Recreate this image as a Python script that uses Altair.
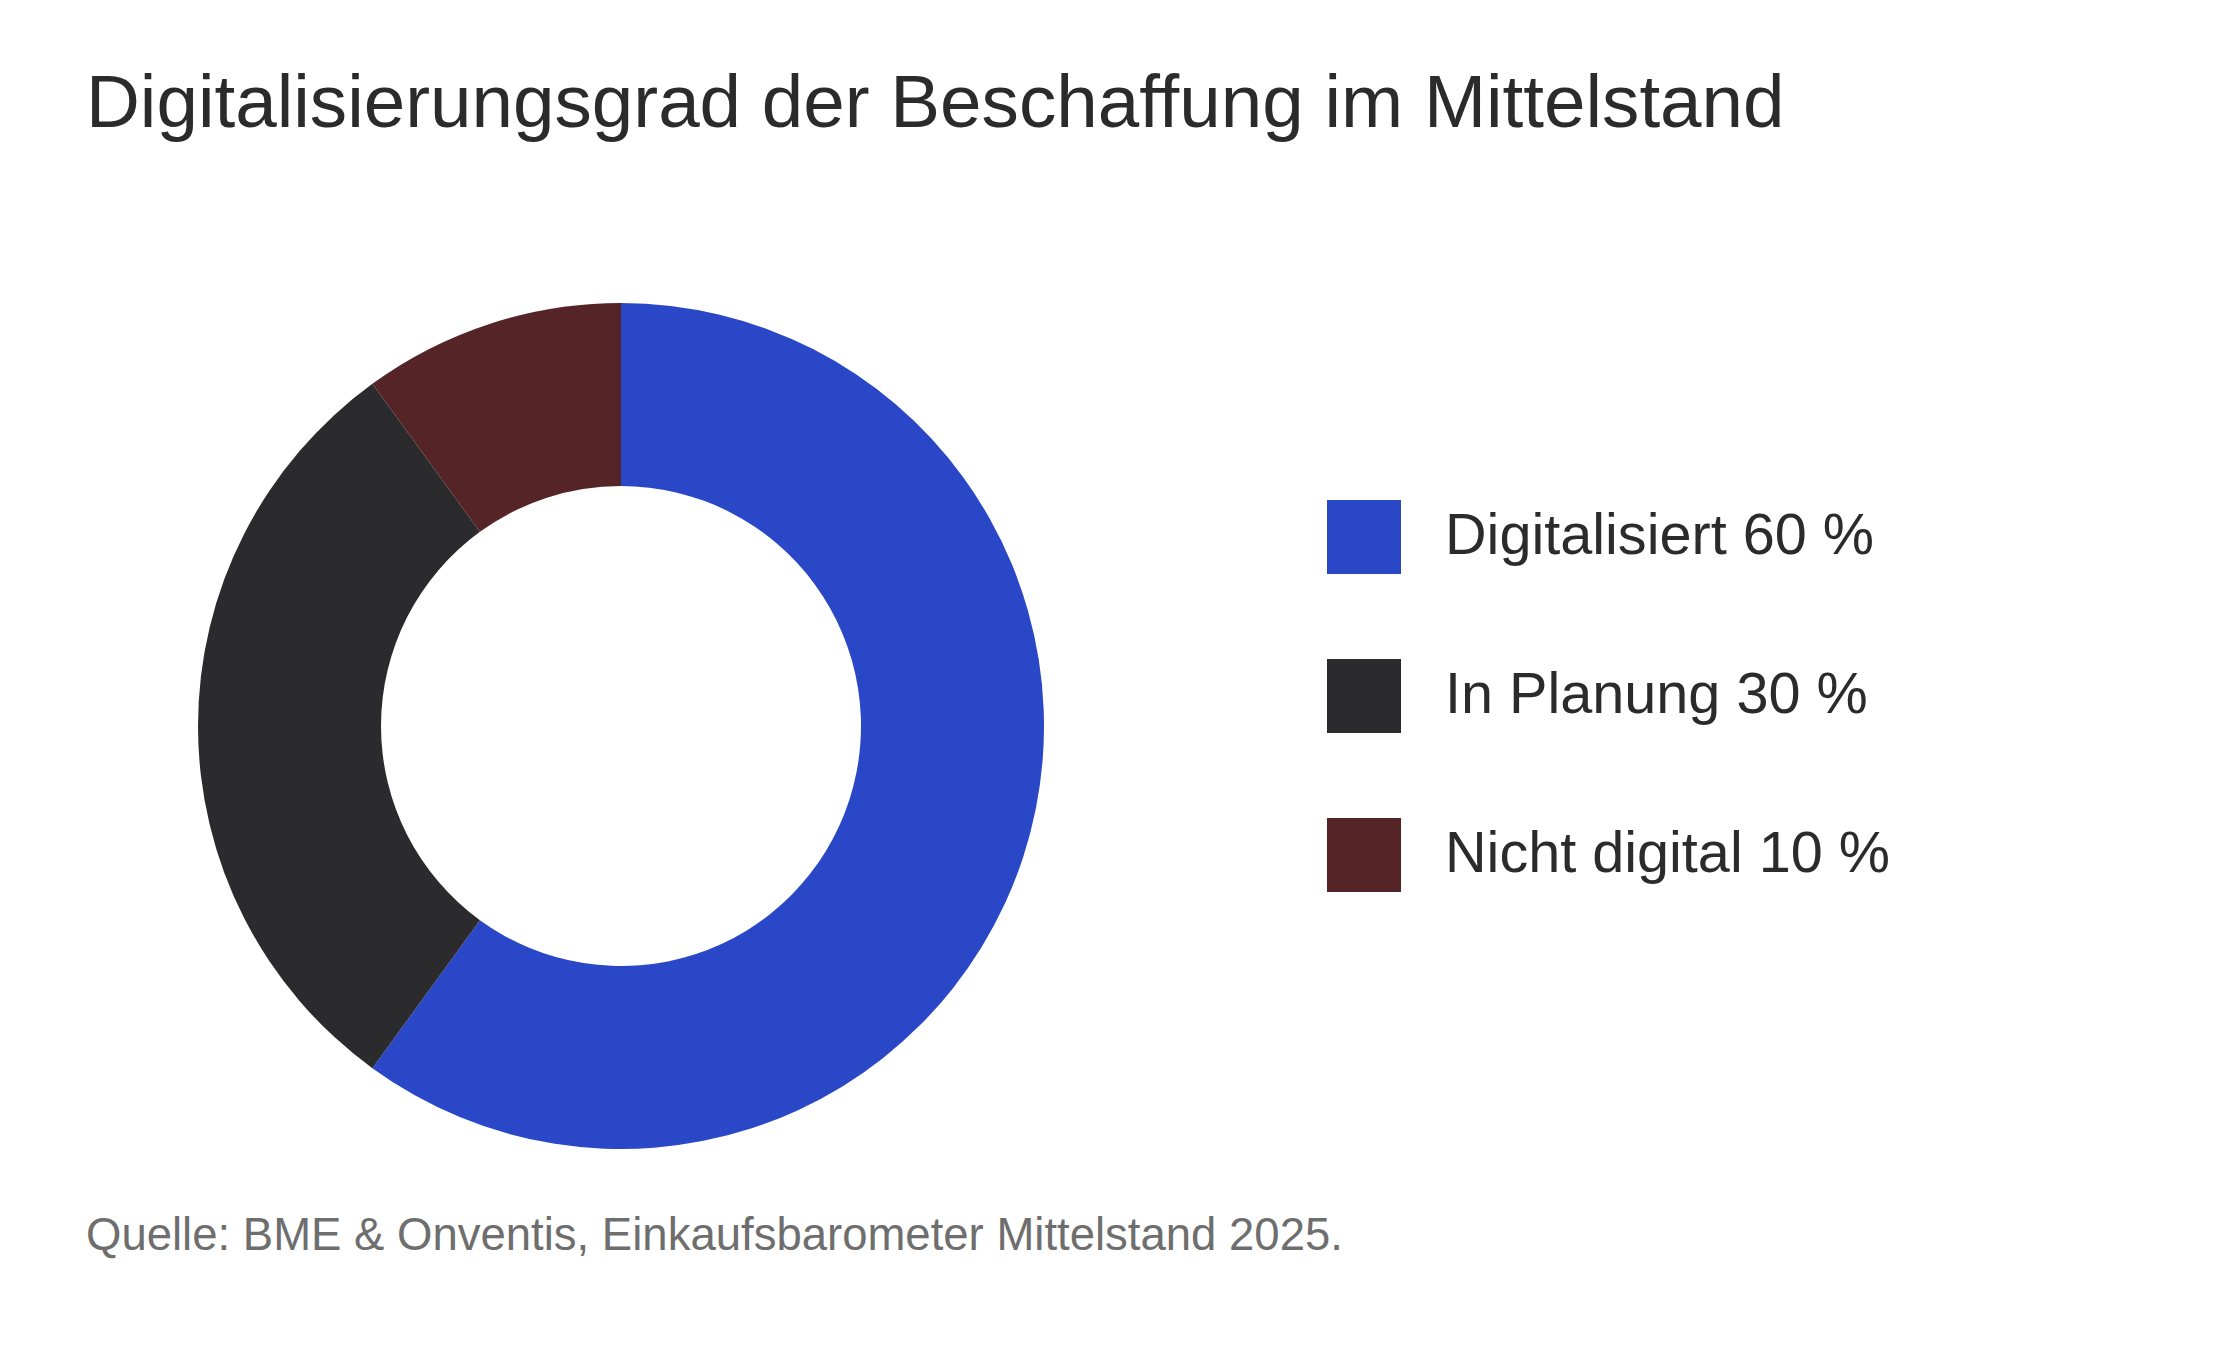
import altair as alt
import pandas as pd

categories = ["Digitalisiert", "In Planung", "Nicht digital"]
values = [60, 30, 10]
colors = ["#2947c6", "#2b2b2d", "#552426"]
labels = [f"{c} {v} %" for c, v in zip(categories, values)]

TITLE = "Digitalisierungsgrad der Beschaffung im Mittelstand"
SOURCE = "Quelle: BME & Onventis, Einkaufsbarometer Mittelstand 2025."

FONT = "Liberation Sans"
TOP = 150

df = pd.DataFrame({"label": labels, "value": values, "order": list(range(len(values)))})

donut = alt.Chart(df).mark_arc(outerRadius=423, innerRadius=240, strokeWidth=0).encode(
    theta=alt.Theta("value:Q", stack=True),
    order=alt.Order("order:Q"),
    color=alt.Color(
        "label:N",
        scale=alt.Scale(domain=labels, range=colors),
        title=None,
        legend=alt.Legend(
            orient="none",
            legendX=1327,
            legendY=534 - 34 - TOP,
            symbolType="square",
            symbolSize=74 * 74,
            symbolStrokeWidth=0,
            symbolOpacity=1,
            labelFont=FONT,
            labelFontSize=57.6,
            labelColor="#2b2b2b",
            labelOffset=44,
            labelLimit=800,
            rowPadding=85,
            padding=0,
        ),
    ),
    x=alt.value(621),
    y=alt.value(726 - TOP),
)

source = alt.Chart(pd.DataFrame({"t": [SOURCE]})).mark_text(
    font=FONT, fontSize=45.5, color="#6e6e6e", align="left", baseline="alphabetic"
).encode(text="t:N", x=alt.value(86), y=alt.value(1250 - TOP))

chart = alt.layer(donut, source).properties(
    width=2240,
    height=1348 - TOP,
    padding={"left": 0, "top": TOP, "right": 0, "bottom": 0},
    autosize=alt.AutoSizeParams(type="none"),
    title=alt.TitleParams(
        TITLE,
        anchor="start",
        frame="group",
        font=FONT,
        fontSize=74.6,
        fontWeight="normal",
        color="#2b2b2b",
        offset=7,
        dx=86,
    ),
).configure(background="white", view=alt.ViewConfig(stroke=None))

chart.save("out.html", embed_options={"renderer": "svg", "actions": False})
